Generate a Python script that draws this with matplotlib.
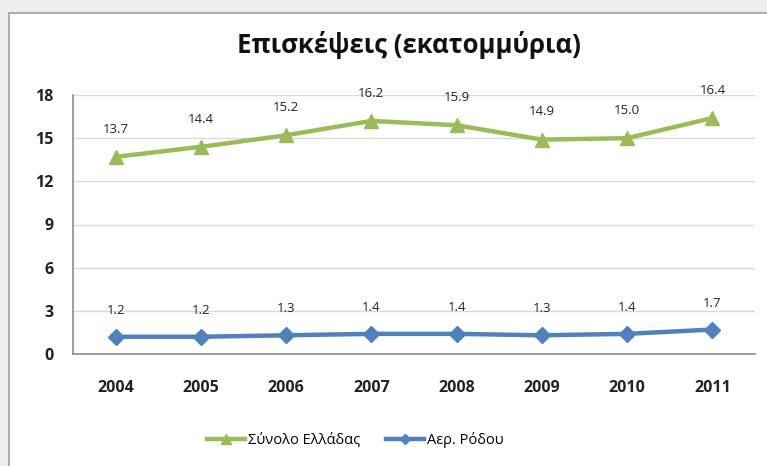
#!/usr/bin/env python3
# -*- coding: utf-8 -*-
# Visits (millions): Greece total vs Rhodes airport, 2004-2011.

import matplotlib.pyplot as plt
from matplotlib.patches import Rectangle

years = ['2004', '2005', '2006', '2007', '2008', '2009', '2010', '2011']
greece = [13.7, 14.4, 15.2, 16.2, 15.9, 14.9, 15.0, 16.4]
rhodes = [1.2, 1.2, 1.3, 1.4, 1.4, 1.3, 1.4, 1.7]
yticks = [0, 3, 6, 9, 12, 15, 18]

green = '#9BBB59'
blue = '#4F81BD'

plt.rcParams['font.family'] = ['Open Sans', 'DejaVu Sans']

fig = plt.figure(figsize=(7.67, 4.66), dpi=100)
fig.patch.set_facecolor('#eeeeee')
# white chart frame, behind everything
frame = Rectangle((9 / 767, -0.1), 1.1, 1.1 - 13 / 466,
                  transform=fig.transFigure, facecolor='white',
                  edgecolor='#a0a0a0', linewidth=1.2, zorder=-10)
fig.add_artist(frame)

ax = fig.add_axes([73 / 767, 1 - 354 / 466, (755 - 73) / 767, (354 - 95) / 466])
ax.set_facecolor('white')
x = range(len(years))

ax.plot(x, greece, color=green, linewidth=3.2, marker='^', markersize=10,
        label='Σύνολο Ελλάδας', zorder=3, clip_on=False)
ax.plot(x, rhodes, color=blue, linewidth=3.2, marker='D', markersize=8,
        label='Αερ. Ρόδου', zorder=3, clip_on=False)

for xi, v in zip(x, greece):
    ax.annotate('%.1f' % v, (xi, v), xytext=(0, 20), textcoords='offset points',
                ha='center', va='center', fontsize=9.5, color='#222222')
for xi, v in zip(x, rhodes):
    ax.annotate('%.1f' % v, (xi, v), xytext=(0, 19), textcoords='offset points',
                ha='center', va='center', fontsize=9.5, color='#222222')

ax.set_xlim(-0.5, len(years) - 0.5)
ax.set_ylim(0, 18)
ax.set_yticks(yticks)
ax.set_xticks(list(x))
ax.set_xticklabels(years)
ax.tick_params(axis='both', length=0, labelsize=11.5, colors='#222222')
ax.tick_params(axis='y', pad=14)
ax.tick_params(axis='x', pad=19)
for lab in ax.get_xticklabels() + ax.get_yticklabels():
    lab.set_fontweight('bold')

ax.grid(axis='y', color='#d9d9d9', linewidth=1)
ax.set_axisbelow(True)
for s in ['top', 'right']:
    ax.spines[s].set_visible(False)
for s in ['left', 'bottom']:
    ax.spines[s].set_color('#8c8c8c')
    ax.spines[s].set_linewidth(1.2)

fig.text(0.533, 1 - 45 / 466, 'Επισκέψεις (εκατομμύρια)', ha='center',
         va='center', fontsize=18.5, fontweight='bold', color='#111111')

fig.legend(loc='center', bbox_to_anchor=(0.463, 1 - 440 / 466), ncol=2,
           frameon=False, fontsize=10.5, handlelength=2.6, columnspacing=1.8,
           handletextpad=0.2, markerscale=0.7)

fig.savefig('out.png', dpi=100, facecolor=fig.get_facecolor())
